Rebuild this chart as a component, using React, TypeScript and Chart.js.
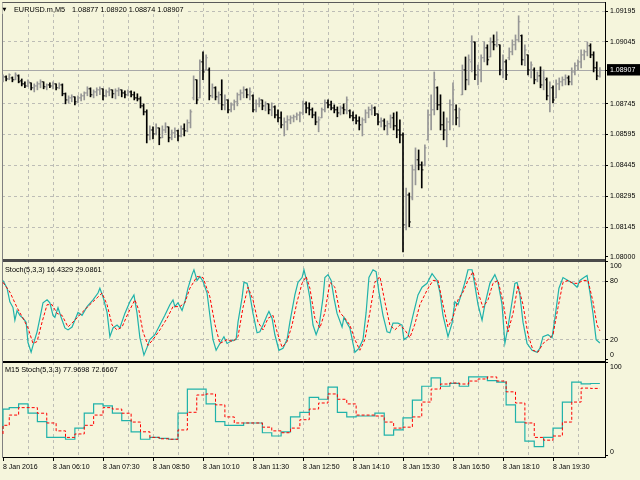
import React, { useEffect, useRef } from "react";
import { Chart, registerables } from "chart.js";

Chart.register(...registerables);

// ---------------- data ----------------
const SYMBOL = "EURUSD.m,M5";
const TIME_LABELS = [
  "8 Jan 2016", "8 Jan 06:10", "8 Jan 07:30", "8 Jan 08:50", "8 Jan 10:10", "8 Jan 11:30",
  "8 Jan 12:50", "8 Jan 14:10", "8 Jan 15:30", "8 Jan 16:50", "8 Jan 18:10", "8 Jan 19:30",
];
// bar numbers of the vertical grid lines (every 8 bars), labels every 16 bars
const GRID_BARS = [0, 8, 16, 24, 32, 40, 48, 56, 64, 72, 80, 88, 96, 104, 112, 120, 128, 136, 144, 152, 160, 168, 176, 184, 192];
const PRICE_LEVELS = [1.08, 1.08145, 1.08295, 1.08445, 1.08595, 1.08745, 1.08907, 1.09045, 1.09195];
const STOCH_LEVELS = [0, 20, 80, 100];
const M15_LEVELS = [0, 100];

const OPEN = [
  1.08861, 1.08875, 1.08865, 1.0887, 1.08861, 1.0888, 1.08856, 1.08841, 1.08831, 1.08846,
  1.08822, 1.08831, 1.08841, 1.08851, 1.08827, 1.08836, 1.08831, 1.08841, 1.08822, 1.08836,
  1.08793, 1.08763, 1.08773, 1.08778, 1.08754, 1.08773, 1.08783, 1.08797, 1.08817, 1.08788,
  1.08802, 1.08812, 1.08817, 1.08783, 1.08802, 1.08812, 1.08793, 1.08807, 1.08812, 1.08797,
  1.08788, 1.08802, 1.08788, 1.08773, 1.08768, 1.08734, 1.08705, 1.08593, 1.08617, 1.08598,
  1.08627, 1.08579, 1.08617, 1.08632, 1.08579, 1.08603, 1.08613, 1.08588, 1.08622, 1.08613,
  1.08652, 1.08773, 1.08861, 1.08773, 1.08948, 1.08909, 1.08909, 1.08783, 1.08822, 1.08778,
  1.08788, 1.08739, 1.08763, 1.08715, 1.08739, 1.08754, 1.08788, 1.08797, 1.08812, 1.08788,
  1.08783, 1.08715, 1.08744, 1.08763, 1.08734, 1.08744, 1.08715, 1.08729, 1.0869, 1.08676,
  1.08642, 1.08656, 1.08666, 1.08676, 1.08681, 1.0869, 1.087, 1.08744, 1.08724, 1.08715,
  1.0869, 1.08656, 1.08676, 1.08715, 1.08749, 1.08739, 1.08724, 1.08715, 1.087, 1.08724,
  1.08715, 1.0871, 1.08686, 1.08676, 1.08661, 1.08642, 1.08666, 1.087, 1.08715, 1.08724,
  1.08695, 1.08656, 1.08661, 1.08637, 1.08647, 1.08676, 1.08637, 1.08617, 1.08593, 1.08156,
  1.08301, 1.08287, 1.08423, 1.08472, 1.08447, 1.08447, 1.08569, 1.0869, 1.08715, 1.08822,
  1.08739, 1.08642, 1.08617, 1.08656, 1.08739, 1.08715, 1.08676, 1.08788, 1.08909, 1.08861,
  1.08948, 1.09045, 1.08885, 1.08909, 1.08968, 1.09016, 1.08972, 1.09045, 1.09031, 1.09031,
  1.08909, 1.08948, 1.08968, 1.08997, 1.09031, 1.09055, 1.09075, 1.08958, 1.08982, 1.08909,
  1.08909, 1.08861, 1.0888, 1.08836, 1.08861, 1.08783, 1.08822, 1.08773, 1.08841, 1.08851,
  1.08861, 1.0887, 1.08851, 1.08899, 1.08929, 1.08948, 1.08982, 1.08997, 1.09026, 1.08982,
  1.08919, 1.08877,
];
const HIGH = [
  1.08885, 1.0888, 1.0889, 1.08875, 1.08895, 1.08885, 1.08865, 1.08851, 1.08861, 1.08846,
  1.08841, 1.08851, 1.08861, 1.08851, 1.08841, 1.08846, 1.08851, 1.08841, 1.08846, 1.08841,
  1.08797, 1.08783, 1.08788, 1.08778, 1.08783, 1.08793, 1.08802, 1.08827, 1.08822, 1.08812,
  1.08822, 1.08827, 1.08817, 1.08812, 1.08822, 1.08812, 1.08817, 1.08822, 1.08812, 1.08807,
  1.08812, 1.08807, 1.08802, 1.08793, 1.08778, 1.08744, 1.08715, 1.08637, 1.08632, 1.08647,
  1.08627, 1.08637, 1.08652, 1.08632, 1.08617, 1.08627, 1.08617, 1.08637, 1.08647, 1.08666,
  1.08715, 1.0888, 1.08861, 1.08958, 1.08997, 1.08982, 1.08919, 1.08841, 1.08827, 1.08802,
  1.08861, 1.08788, 1.08763, 1.08749, 1.08763, 1.08797, 1.08812, 1.08827, 1.08817, 1.08822,
  1.08788, 1.08763, 1.08773, 1.08763, 1.08754, 1.08744, 1.08749, 1.08734, 1.08715, 1.08705,
  1.08676, 1.08686, 1.08686, 1.0869, 1.087, 1.08705, 1.08758, 1.08754, 1.08749, 1.08724,
  1.08705, 1.08681, 1.08724, 1.08763, 1.08763, 1.08758, 1.08739, 1.08729, 1.08734, 1.08744,
  1.08778, 1.08715, 1.08705, 1.0869, 1.08681, 1.08676, 1.08715, 1.08729, 1.08739, 1.08729,
  1.08695, 1.08676, 1.08671, 1.08661, 1.0869, 1.087, 1.08705, 1.08666, 1.08603, 1.08335,
  1.08311, 1.08447, 1.0853, 1.0852, 1.08462, 1.08545, 1.08715, 1.08788, 1.08899, 1.08827,
  1.08788, 1.08705, 1.08676, 1.08763, 1.08846, 1.08739, 1.08724, 1.08933, 1.08972, 1.08982,
  1.09075, 1.09045, 1.08933, 1.08982, 1.09045, 1.09031, 1.09065, 1.09079, 1.09094, 1.09031,
  1.08982, 1.08958, 1.09016, 1.09055, 1.09079, 1.09172, 1.09079, 1.09031, 1.08982, 1.08948,
  1.08919, 1.08899, 1.08924, 1.08909, 1.0887, 1.08851, 1.08831, 1.08861, 1.0887, 1.08875,
  1.08885, 1.0888, 1.08919, 1.08943, 1.08958, 1.09006, 1.09006, 1.09045, 1.09036, 1.08997,
  1.08948, 1.0892,
];
const LOW = [
  1.08851, 1.08856, 1.08861, 1.08851, 1.08861, 1.08846, 1.08831, 1.08822, 1.08827, 1.08812,
  1.08802, 1.08812, 1.08822, 1.08817, 1.08812, 1.08822, 1.08817, 1.08812, 1.08817, 1.08783,
  1.08744, 1.08749, 1.08754, 1.08739, 1.08749, 1.08758, 1.08763, 1.08783, 1.08778, 1.08773,
  1.08783, 1.08788, 1.08763, 1.08778, 1.08783, 1.08773, 1.08768, 1.08783, 1.08778, 1.08773,
  1.08783, 1.08778, 1.08763, 1.08758, 1.08724, 1.0869, 1.08554, 1.08569, 1.08574, 1.08593,
  1.08545, 1.08579, 1.08603, 1.08559, 1.08569, 1.08579, 1.08564, 1.08583, 1.08588, 1.08608,
  1.08627, 1.08763, 1.08744, 1.08773, 1.08861, 1.08909, 1.08763, 1.08773, 1.08763, 1.08744,
  1.08715, 1.08715, 1.087, 1.08705, 1.08715, 1.08734, 1.08763, 1.08773, 1.08773, 1.08763,
  1.08705, 1.08705, 1.08729, 1.08715, 1.0871, 1.08695, 1.08686, 1.08676, 1.08656, 1.08627,
  1.08588, 1.08617, 1.08647, 1.08656, 1.08666, 1.08656, 1.0869, 1.087, 1.0869, 1.08676,
  1.08642, 1.08608, 1.08676, 1.08705, 1.08724, 1.08715, 1.087, 1.08681, 1.0869, 1.08695,
  1.08695, 1.08676, 1.08661, 1.08647, 1.08617, 1.08588, 1.08652, 1.08676, 1.0869, 1.08686,
  1.08642, 1.08632, 1.08617, 1.08593, 1.08627, 1.08617, 1.08579, 1.08554, 1.08024, 1.08131,
  1.08146, 1.08277, 1.0835, 1.08423, 1.08335, 1.08442, 1.08569, 1.08617, 1.0869, 1.08715,
  1.08617, 1.08569, 1.08535, 1.08617, 1.08642, 1.08642, 1.08632, 1.08788, 1.08812, 1.08836,
  1.08899, 1.08861, 1.08836, 1.08851, 1.08948, 1.08933, 1.08972, 1.09006, 1.09021, 1.08885,
  1.0887, 1.08861, 1.08958, 1.08982, 1.09006, 1.09045, 1.08933, 1.08929, 1.08885, 1.0887,
  1.08841, 1.08851, 1.08822, 1.08812, 1.08763, 1.08705, 1.08749, 1.08773, 1.08812, 1.08831,
  1.08836, 1.08836, 1.08836, 1.08885, 1.08909, 1.08919, 1.08958, 1.08977, 1.08968, 1.08899,
  1.08861, 1.08874,
];
const CLOSE = [
  1.08875, 1.08865, 1.08885, 1.08861, 1.08885, 1.08851, 1.08841, 1.08831, 1.08851, 1.08822,
  1.08831, 1.08841, 1.08851, 1.08827, 1.08836, 1.08831, 1.08841, 1.08822, 1.08836, 1.08793,
  1.08763, 1.08773, 1.08778, 1.08754, 1.08773, 1.08783, 1.08797, 1.08817, 1.08788, 1.08802,
  1.08812, 1.08817, 1.08783, 1.08802, 1.08812, 1.08793, 1.08807, 1.08812, 1.08797, 1.08788,
  1.08802, 1.08788, 1.08773, 1.08768, 1.08734, 1.08705, 1.08593, 1.08617, 1.08598, 1.08627,
  1.08579, 1.08617, 1.08632, 1.08579, 1.08603, 1.08613, 1.08588, 1.08622, 1.08613, 1.08652,
  1.08705, 1.08861, 1.08763, 1.08948, 1.08899, 1.08968, 1.08783, 1.08822, 1.08778, 1.08788,
  1.08739, 1.08763, 1.08715, 1.08739, 1.08754, 1.08788, 1.08797, 1.08812, 1.08788, 1.08802,
  1.08715, 1.08744, 1.08763, 1.08734, 1.08744, 1.08715, 1.08729, 1.0869, 1.08676, 1.08642,
  1.08656, 1.08666, 1.08676, 1.08681, 1.0869, 1.087, 1.08744, 1.08724, 1.08715, 1.0869,
  1.08656, 1.08666, 1.08715, 1.08749, 1.08739, 1.08724, 1.08715, 1.087, 1.08724, 1.08715,
  1.08763, 1.08686, 1.08676, 1.08661, 1.08642, 1.08666, 1.087, 1.08715, 1.08724, 1.08695,
  1.08656, 1.08661, 1.08637, 1.08647, 1.08676, 1.08637, 1.08617, 1.08593, 1.08156, 1.08301,
  1.0817, 1.08423, 1.08472, 1.08447, 1.08423, 1.0853, 1.0869, 1.08715, 1.08861, 1.08739,
  1.08642, 1.08617, 1.08656, 1.08739, 1.08812, 1.08676, 1.08715, 1.08909, 1.08861, 1.08958,
  1.09045, 1.08885, 1.08909, 1.08968, 1.09016, 1.08958, 1.09045, 1.09031, 1.09055, 1.08909,
  1.08948, 1.08885, 1.08997, 1.09031, 1.09055, 1.09143, 1.08958, 1.09006, 1.08909, 1.08933,
  1.08861, 1.0888, 1.08836, 1.0887, 1.08783, 1.08822, 1.08763, 1.08841, 1.08851, 1.08861,
  1.0887, 1.08851, 1.08899, 1.08929, 1.08948, 1.08982, 1.08997, 1.09026, 1.08982, 1.08919,
  1.0888, 1.08907,
];

// Stochastic(5,3,3) on M5: [bar, value]
const M5_MAIN: [number, number][] = [
  [0, 81], [1.3, 73], [2.2, 59], [3.2, 53], [3.8, 40], [4.5, 50], [5.4, 45], [6.4, 42], [7.4, 38], [8, 17],
  [9, 7], [9.6, 14], [10.9, 28], [11.8, 42], [12.8, 58], [14.1, 61], [15, 58], [16, 45], [16.6, 43], [17.6, 53],
  [18.6, 43], [19.8, 32], [20.8, 30], [22.1, 33], [24, 48], [25.3, 45], [26.9, 54], [28.8, 61], [30.4, 68], [31, 73],
  [32, 64], [33.3, 48], [34.2, 23], [35.2, 32], [36.5, 35], [37.4, 32], [39, 47], [40.6, 59], [41.9, 66], [42.9, 47],
  [43.8, 22], [45.1, 4], [46.1, 12], [47, 20], [48.6, 25], [50.2, 35], [51.8, 45], [53.4, 56], [54.4, 61], [55, 54],
  [56, 58], [57.3, 50], [58.2, 59], [59.2, 73], [60.5, 87], [61.1, 92], [62.1, 81], [63, 85], [64, 80], [65.3, 68],
  [66.2, 45], [67.2, 20], [68.2, 9], [69.4, 16], [70.7, 23], [71.7, 16], [73.3, 19], [74.6, 20], [75.2, 38], [76.5, 63],
  [77.1, 79], [78.1, 78], [79, 66], [80, 47], [81.3, 27], [82.2, 28], [83.2, 35], [84.5, 45], [85.1, 49], [86.1, 42],
  [87, 25], [88.3, 9], [89.6, 11], [90.9, 20], [91.8, 38], [93.4, 66], [94.4, 79], [95.7, 84], [96.3, 92], [97.3, 79],
  [98.2, 63], [99.2, 35], [100.2, 25], [101.1, 33], [102.4, 63], [103, 84], [104, 87], [105, 81], [105.9, 63], [106.9, 47],
  [108.5, 33], [109.1, 43], [110.1, 37], [111, 32], [112, 16], [112.6, 7], [113.9, 11], [115.2, 20], [116.2, 48], [117.1, 84],
  [118.4, 92], [119.4, 90], [120.3, 69], [121.6, 45], [122.9, 28], [123.8, 27], [124.8, 37], [126.4, 37], [127.7, 35], [128.3, 20],
  [129.6, 23], [131.2, 45], [132.8, 66], [134.1, 74], [135.7, 78], [137.3, 88], [138.9, 81], [139.8, 69], [140.8, 45], [142.4, 23],
  [143.7, 37], [144.6, 59], [145.6, 56], [146.9, 69], [147.8, 79], [148.8, 92], [150.1, 92], [151, 76], [152, 56], [153.3, 40],
  [154.2, 56], [155.8, 78], [157.4, 87], [158.4, 79], [159.7, 56], [160.6, 16], [161.6, 33], [162.9, 59], [163.8, 78], [164.5, 79],
  [165.4, 66], [166.4, 38], [167.7, 16], [169.3, 9], [170.9, 7], [171.8, 11], [172.8, 23], [174.4, 25], [175.7, 22], [176.6, 42],
  [177.9, 73], [179.2, 84], [180.8, 81], [182.4, 78], [183.7, 74], [184.6, 81], [185.9, 84], [186.9, 86], [187.8, 69], [188.8, 47],
  [189.8, 20], [191, 16.4329],
];
const M5_SIGNAL: [number, number][] = [
  [0, 79], [2.2, 69], [4.5, 53], [6.4, 42], [8, 32], [9.6, 16], [10.9, 18], [12.5, 38], [14.1, 56], [15.7, 56],
  [17.3, 47], [18.9, 45], [20.8, 33], [23, 40], [25.3, 48], [27.8, 56], [30.1, 63], [31.7, 68], [33.3, 56], [34.9, 35],
  [36.5, 30], [38.1, 33], [40, 47], [42.2, 61], [43.5, 50], [44.8, 28], [46.4, 14], [48, 20], [50.2, 30], [52.5, 42],
  [54.4, 54], [56.6, 54], [58.2, 58], [59.8, 73], [62.1, 85], [64, 84], [66.2, 64], [67.8, 36], [69.4, 16], [71.7, 20],
  [73.6, 18], [75.2, 23], [76.8, 53], [78.4, 74], [80, 61], [81.6, 38], [83.2, 30], [84.8, 42], [86.4, 45], [87.7, 28],
  [89.3, 12], [90.9, 18], [92.5, 35], [94.1, 59], [95.7, 78], [97, 85], [98.2, 73], [99.8, 42], [101.4, 32], [103, 48],
  [104.6, 79], [106.2, 74], [107.8, 48], [109.4, 42], [111, 35], [112.6, 20], [114.2, 9], [115.8, 20], [117.4, 48], [119, 79],
  [120.6, 85], [122.2, 59], [123.8, 35], [125.4, 30], [127, 35], [128.6, 30], [130.2, 22], [131.8, 36], [133.4, 56], [135.7, 71],
  [137.6, 81], [139.2, 81], [140.8, 56], [142.4, 33], [144, 43], [145.6, 61], [147.2, 69], [148.8, 81], [150.4, 90], [152, 69],
  [153.6, 53], [155.2, 61], [156.8, 78], [158.4, 81], [160, 59], [161.6, 28], [163.2, 47], [164.8, 76], [166.4, 56], [168, 25],
  [169.6, 9], [171.2, 7], [172.8, 16], [174.4, 20], [176, 25], [177.6, 53], [179.2, 79], [180.8, 81], [182.4, 78], [184, 78],
  [185.6, 81], [187.2, 81], [188.8, 59], [190.1, 35], [191, 29.0861],
];

// Stochastic(5,3,3) of M15, one value per M15 bar (first M5 bar of each)
const M15_BARS = [
  0, 2, 5, 8, 11, 14, 17, 20, 23, 26, 29, 32, 35, 38, 41, 44, 47, 50, 53, 56, 59, 62, 65, 68, 71, 74, 77, 80, 83, 86,
  89, 92, 95, 98, 101, 104, 107, 110, 113, 116, 119, 122, 125, 128, 131, 134, 137, 140, 143, 146, 149, 152, 155, 158,
  161, 164, 167, 170, 173, 176, 179, 182, 185, 188, 191,
];
const M15_MAIN = [
  29, 50.5, 52, 56, 46, 37, 20, 20, 18, 30, 46, 56, 54, 46, 38, 26, 18, 20, 19, 18, 46, 72, 72, 56, 37, 33, 33, 35.5, 35.5, 25,
  21.5, 26, 42, 47, 63, 61, 74, 47, 42, 43, 43, 46, 22.5, 28, 41, 60, 75, 84, 75, 78, 75, 85, 85, 81,
  79.5, 55, 36.5, 16, 10, 20, 30, 58, 79.5, 77.5, 77.9698,
];
const M15_SIGNAL = [
  23.7, 33, 44, 52, 52, 46, 35.5, 27, 20, 23.7, 33, 44, 52, 50.5, 46, 36.5, 26, 20, 18.5, 18, 28, 47, 65.6, 66.7, 55, 42, 35.5, 35.5, 35.5, 31,
  27, 25, 30, 39, 50.5, 57, 66.7, 61, 56, 44, 44, 43, 36.5, 30, 31, 42, 58, 72, 77.4, 78.5, 77.4, 80.6, 82.8, 85,
  80.6, 69, 57, 35.5, 20, 17, 21.5, 36.5, 58, 73, 72.6667,
];

// ---------------- style ----------------
const BG = "#F5F5DC";
const GRID = "#BDBDB6";
const TEAL = "#20B2AA";
const RED = "#FF0000";
const UP_COLOR = "#969696";
const DOWN_COLOR = "#000000";
const FONT = "Liberation Sans";

const X_MIN = -0.32;
const X_MAX = 192.64;
const TICK_SHIFT = 0.3;
const PRICE_MIN = 1.07985;
const PRICE_MAX = 1.09239;
const S1_MIN = -2.06;
const S1_MAX = 102.06;
const S2_MIN = -1.08;
const S2_MAX = 102.15;

const last = CLOSE.length - 1;
const BID = CLOSE[last];

const tv = (c: any) => (c && c.tick ? c.tick.value : undefined);

const titlePlugin = {
  id: "paneTitles",
  afterDraw(chart: any) {
    const { ctx, chartArea, scales } = chart;
    ctx.save();
    ctx.textBaseline = "middle";
    ctx.textAlign = "left";
    ctx.font = `7.3px "${FONT}"`;
    const ohlc = [OPEN[last], HIGH[last], LOW[last], CLOSE[last]].map((v) => v.toFixed(5)).join(" ");
    const titleEnd = chartArea.left + 70 + ctx.measureText(ohlc).width;
    // MT4 paints the chart caption on an opaque background
    ctx.fillStyle = BG;
    ctx.fillRect(chartArea.left + 0.5, scales.yP.top + 1, titleEnd - chartArea.left + 2, 11);
    ctx.fillStyle = "#000";
    ctx.font = '5px "DejaVu Sans"';
    ctx.fillText("\u25BC", chartArea.left + 0.5, scales.yP.top + 7.8);
    ctx.font = `7.3px "${FONT}"`;
    ctx.fillText(SYMBOL, chartArea.left + 12, scales.yP.top + 7.5);
    ctx.fillText(ohlc, chartArea.left + 70, scales.yP.top + 7.5);
    const m5 = `Stoch(5,3,3) ${M5_MAIN[M5_MAIN.length - 1][1].toFixed(4)} ${M5_SIGNAL[M5_SIGNAL.length - 1][1].toFixed(4)}`;
    ctx.fillText(m5, chartArea.left + 3, scales.yS1.top + 9.5);
    const m15 = `M15 Stoch(5,3,3) ${M15_MAIN[M15_MAIN.length - 1].toFixed(4)} ${M15_SIGNAL[M15_SIGNAL.length - 1].toFixed(4)}`;
    ctx.fillText(m15, chartArea.left + 3, scales.yS2.top + 9);
    ctx.restore();
  },
};

const tickFont = { family: FONT, size: 7 };

export default function App() {
  const ref = useRef<HTMLCanvasElement>(null);

  useEffect(() => {
    document.body.style.margin = "0";
    const canvas = ref.current!;
    const barColors = OPEN.map((o, i) => (CLOSE[i] > o ? UP_COLOR : DOWN_COLOR));

    const chart = new Chart(canvas, {
      type: "bar",
      data: {
        datasets: [
          {
            type: "bar",
            label: "range",
            data: HIGH.map((h, i) => ({ x: i, y: [LOW[i], h] })) as any,
            backgroundColor: barColors,
            borderWidth: 0,
            barThickness: 1,
            grouped: false,
            xAxisID: "x",
            yAxisID: "yP",
          } as any,
          {
            type: "line",
            label: "open",
            data: OPEN.map((o, i) => ({ x: i - TICK_SHIFT, y: o })),
            showLine: false,
            pointStyle: "line",
            pointRadius: 0.8,
            pointBorderWidth: 0.9,
            pointBorderColor: barColors,
            pointBackgroundColor: barColors,
            xAxisID: "x",
            yAxisID: "yP",
          } as any,
          {
            type: "line",
            label: "close",
            data: CLOSE.map((c, i) => ({ x: i + TICK_SHIFT, y: c })),
            showLine: false,
            pointStyle: "line",
            pointRadius: 0.8,
            pointBorderWidth: 0.9,
            pointBorderColor: barColors,
            pointBackgroundColor: barColors,
            xAxisID: "x",
            yAxisID: "yP",
          } as any,
          {
            type: "line",
            label: "M5 signal",
            data: M5_SIGNAL.map(([b, v]) => ({ x: b, y: v })),
            borderColor: RED,
            borderWidth: 1,
            borderDash: [3, 2],
            pointRadius: 0,
            tension: 0,
            xAxisID: "x",
            yAxisID: "yS1",
          } as any,
          {
            type: "line",
            label: "M5 main",
            data: M5_MAIN.map(([b, v]) => ({ x: b, y: v })),
            borderColor: TEAL,
            borderWidth: 1.2,
            pointRadius: 0,
            tension: 0,
            xAxisID: "x",
            yAxisID: "yS1",
          } as any,
          {
            type: "line",
            label: "M15 signal",
            data: M15_BARS.map((b, i) => ({ x: b, y: M15_SIGNAL[i] })),
            borderColor: RED,
            borderWidth: 1,
            borderDash: [3, 2],
            stepped: "after",
            pointRadius: 0,
            xAxisID: "x",
            yAxisID: "yS2",
          } as any,
          {
            type: "line",
            label: "M15 main",
            data: M15_BARS.map((b, i) => ({ x: b, y: M15_MAIN[i] })),
            borderColor: TEAL,
            borderWidth: 1.2,
            stepped: "after",
            pointRadius: 0,
            xAxisID: "x",
            yAxisID: "yS2",
          } as any,
        ],
      },
      options: {
        animation: false,
        responsive: false,
        events: [],
        layout: { padding: 0, autoPadding: false } as any,
        plugins: { legend: { display: false }, tooltip: { enabled: false }, title: { display: false } },
        scales: {
          x: {
            type: "linear",
            position: "bottom",
            min: X_MIN,
            max: X_MAX,
            offset: false,
            afterBuildTicks: (s: any) => {
              s.ticks = GRID_BARS.map((v) => ({ value: v }));
            },
            afterFit: (s: any) => {
              s.height = 23;
              s.paddingLeft = 0;
              s.paddingRight = 0;
            },
            grid: {
              offset: false,
              color: (c: any) => {
                const v = tv(c);
                return v === undefined || v === GRID_BARS[0] || v === GRID_BARS[GRID_BARS.length - 1] ? "transparent" : GRID;
              },
              lineWidth: 1,
              drawTicks: true,
              tickLength: 4,
              tickColor: (c: any) => {
                const v = tv(c);
                return v !== undefined && v % 16 === 0 && v / 16 < TIME_LABELS.length ? "#000" : "transparent";
              },
            },
            border: { display: true, color: "#000", width: 1, dash: [3, 3] },
            ticks: {
              autoSkip: false,
              maxRotation: 0,
              minRotation: 0,
              align: "start",
              padding: 2,
              color: "#000",
              font: tickFont,
              callback: (v: any) => (v % 16 === 0 && v / 16 < TIME_LABELS.length ? TIME_LABELS[v / 16] : ""),
            },
          } as any,
          xTop: {
            type: "linear",
            position: "top",
            grid: { display: false },
            ticks: { display: false },
            border: { display: true, color: "#5a5a5a", width: 1 },
            afterFit: (s: any) => {
              s.height = 2;
              s.paddingLeft = 0;
              s.paddingRight = 0;
            },
          } as any,
          yL: {
            type: "linear",
            position: "left",
            grid: { display: false },
            ticks: { display: false },
            border: { display: true, color: "#808080", width: 1 },
            afterFit: (s: any) => {
              s.width = 2;
              s.paddingTop = 0;
              s.paddingBottom = 0;
            },
          } as any,
          yP: {
            type: "linear",
            position: "right",
            stack: "panes",
            stackWeight: 258,
            min: PRICE_MIN,
            max: PRICE_MAX,
            afterBuildTicks: (s: any) => {
              s.ticks = PRICE_LEVELS.map((v) => ({ value: v }));
            },
            afterFit: (s: any) => {
              s.width = 35;
              s.paddingTop = 0;
              s.paddingBottom = 0;
            },
            grid: {
              color: (c: any) => {
                const v = tv(c);
                if (v === BID) return "#A8A8A8";
                if (v === PRICE_LEVELS[0]) return "transparent";
                return GRID;
              },
              lineWidth: 1,
              tickLength: 3,
              tickColor: "#000",
            },
            border: {
              display: true,
              color: "#000",
              width: 1,
              dash: (c: any) => (tv(c) === BID ? [] : [3, 3]),
            },
            ticks: {
              autoSkip: false,
              padding: 2,
              font: tickFont,
              color: (c: any) => (tv(c) === BID ? "#fff" : "#000"),
              showLabelBackdrop: (c: any) => tv(c) === BID,
              backdropColor: "#000",
              backdropPadding: { left: 3, right: 8, top: 2, bottom: 1 },
              callback: (v: any) => Number(v).toFixed(5),
            },
          } as any,
          yS1: {
            type: "linear",
            position: "right",
            stack: "panes",
            stackWeight: 101,
            min: S1_MIN,
            max: S1_MAX,
            afterBuildTicks: (s: any) => {
              s.ticks = [S1_MIN, ...STOCH_LEVELS, S1_MAX].map((v) => ({ value: v }));
            },
            afterFit: (s: any) => {
              s.width = 35;
              s.paddingTop = 0;
              s.paddingBottom = 0;
            },
            grid: {
              color: (c: any) => {
                const v = tv(c);
                if (v === S1_MAX) return "#4a4a4a";
                if (v === S1_MIN) return "#000";
                if (v === STOCH_LEVELS[1] || v === STOCH_LEVELS[2]) return GRID;
                return "transparent";
              },
              lineWidth: (c: any) => (tv(c) === S1_MAX ? 3 : 1),
              tickLength: 3,
              tickColor: (c: any) => (STOCH_LEVELS.includes(tv(c)) ? "#000" : "transparent"),
            },
            border: {
              display: true,
              color: "#000",
              width: 1,
              dash: (c: any) => {
                const v = tv(c);
                return v === STOCH_LEVELS[1] || v === STOCH_LEVELS[2] ? [3, 3] : [];
              },
            },
            ticks: {
              autoSkip: false,
              padding: 2,
              font: tickFont,
              color: "#000",
              callback: (v: any) => {
                if (v === 0) return ["0", ""];
                if (v === 100) return ["", "100"];
                return STOCH_LEVELS.includes(v) ? String(v) : "";
              },
            },
          } as any,
          yS2: {
            type: "linear",
            position: "right",
            stack: "panes",
            stackWeight: 96,
            min: S2_MIN,
            max: S2_MAX,
            afterBuildTicks: (s: any) => {
              s.ticks = M15_LEVELS.map((v) => ({ value: v }));
            },
            afterFit: (s: any) => {
              s.width = 35;
              s.paddingTop = 0;
              s.paddingBottom = 0;
            },
            grid: {
              color: (c: any) => (tv(c) === 100 ? "#000" : "transparent"),
              lineWidth: 1,
              tickLength: 3,
              tickColor: "#000",
            },
            border: { display: true, color: "#000", width: 1 },
            ticks: {
              autoSkip: false,
              padding: 2,
              font: tickFont,
              color: "#000",
              callback: (v: any) => (v === 0 ? ["0", ""] : v === 100 ? ["", "100"] : ""),
            },
          } as any,
        },
      },
      plugins: [titlePlugin as any],
    });

    return () => chart.destroy();
  }, []);

  return (
    <canvas
      ref={ref}
      width={640}
      height={480}
      style={{ display: "block", width: 640, height: 480, background: BG }}
    />
  );
}
